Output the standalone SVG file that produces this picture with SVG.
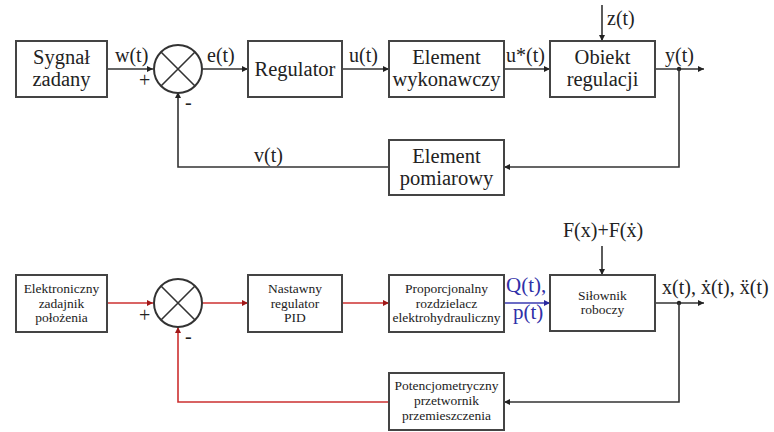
<svg xmlns="http://www.w3.org/2000/svg" width="774" height="432" viewBox="0 0 774 432">
<defs>
<style>
.box{fill:#fff;stroke:#444;stroke-width:2}
.t{fill:#222;text-anchor:middle}
.ln{fill:none;stroke:#333;stroke-width:1.6}
.red{fill:none;stroke:#cc3030;stroke-width:1.6}
.blue{fill:none;stroke:#3a3ab0;stroke-width:1.6}
.sum{fill:#fff;stroke:#333;stroke-width:2}
.x{stroke:#333;stroke-width:1.6}
</style>
<marker id="ak" viewBox="0 0 10 10" refX="10" refY="5" markerWidth="9" markerHeight="6" markerUnits="userSpaceOnUse" orient="auto"><path d="M0,0 L10,5 L0,10 z" fill="#222"/></marker>
<marker id="ar" viewBox="0 0 10 10" refX="10" refY="5" markerWidth="9" markerHeight="6" markerUnits="userSpaceOnUse" orient="auto"><path d="M0,0 L10,5 L0,10 z" fill="#a01818"/></marker>
<marker id="ab" viewBox="0 0 10 10" refX="10" refY="5" markerWidth="9" markerHeight="6" markerUnits="userSpaceOnUse" orient="auto"><path d="M0,0 L10,5 L0,10 z" fill="#2a2aa0"/></marker>
</defs>
<rect width="774" height="432" fill="#fff"/>

<g id="connectors">
<path class="ln" d="M107,69 H153" marker-end="url(#ak)"/>
<path class="ln" d="M202,69 H248" marker-end="url(#ak)"/>
<path class="ln" d="M342,69 H389" marker-end="url(#ak)"/>
<path class="ln" d="M504,69 H550" marker-end="url(#ak)"/>
<path class="ln" d="M602,5 V41" marker-end="url(#ak)"/>
<path class="ln" d="M655,69 H704" marker-end="url(#ak)"/>
<circle cx="679" cy="69" r="2.2" fill="#222"/>
<path class="ln" d="M679,69 V167 H504" marker-end="url(#ak)"/>
<path class="ln" d="M389,167 H178 V92" marker-end="url(#ak)"/>
<path class="red" d="M107,303 H153" marker-end="url(#ar)"/>
<path class="red" d="M202,303 H248" marker-end="url(#ar)"/>
<path class="red" d="M342,303 H389" marker-end="url(#ar)"/>
<path class="blue" d="M504,303 H550" marker-end="url(#ab)"/>
<path class="ln" d="M602,246 V275" marker-end="url(#ak)"/>
<path class="ln" d="M655,303 H704" marker-end="url(#ak)"/>
<circle cx="679" cy="303" r="2.2" fill="#222"/>
<path class="ln" d="M679,303 V402 H504" marker-end="url(#ak)"/>
<path class="red" d="M389,402 H178 V327" marker-end="url(#ar)"/>
</g>

<g id="labels" font-family="'Liberation Serif', serif" font-size="20" fill="#222">
<text x="115" y="62">w(t)</text>
<text x="139" y="87">+</text>
<text x="185" y="109">-</text>
<text x="207" y="62">e(t)</text>
<text x="349" y="62">u(t)</text>
<text x="506" y="62">u*(t)</text>
<text x="607" y="25">z(t)</text>
<text x="665" y="62">y(t)</text>
<text x="254" y="162">v(t)</text>
<text x="139" y="322">+</text>
<text x="185" y="343">-</text>
<text x="563" y="237">F(x)+F(ẋ)</text>
<text x="662" y="294">x(t), ẋ(t), ẍ(t)</text>
<text x="506" y="292" fill="#3030a8" font-size="21">Q(t),</text>
<text x="513" y="319" fill="#3030a8" font-size="21">p(t)</text>
</g>

<g id="sygnal" font-family="'Liberation Serif', serif" font-size="20.5"><rect class="box" x="16" y="41" width="91" height="56"/><text class="t" x="61.5" y="64">Sygnał</text><text class="t" x="61.5" y="86">zadany</text></g>
<g id="sum1"><circle class="sum" cx="178" cy="69" r="24"/><path class="x" d="M161,52 L195,86 M195,52 L161,86"/></g>
<g id="regulator" font-family="'Liberation Serif', serif" font-size="20.5"><rect class="box" x="248" y="41" width="94" height="56"/><text class="t" x="295" y="76">Regulator</text></g>
<g id="wykonawczy" font-family="'Liberation Serif', serif" font-size="20.5"><rect class="box" x="389" y="41" width="115" height="56"/><text class="t" x="446.5" y="64">Element</text><text class="t" x="446.5" y="86">wykonawczy</text></g>
<g id="obiekt" font-family="'Liberation Serif', serif" font-size="20.5"><rect class="box" x="550" y="41" width="105" height="56"/><text class="t" x="602.5" y="64">Obiekt</text><text class="t" x="602.5" y="86">regulacji</text></g>
<g id="pomiarowy" font-family="'Liberation Serif', serif" font-size="20.5"><rect class="box" x="389" y="140" width="115" height="55"/><text class="t" x="446.5" y="163">Element</text><text class="t" x="446.5" y="185">pomiarowy</text></g>

<g id="elektroniczny" font-family="'Liberation Serif', serif" font-size="13.5"><rect class="box" x="16" y="275" width="91" height="57"/><text class="t" x="61.5" y="293">Elektroniczny</text><text class="t" x="61.5" y="307.5">zadajnik</text><text class="t" x="61.5" y="322">położenia</text></g>
<g id="sum2"><circle class="sum" cx="178" cy="303" r="24"/><path class="x" d="M161,286 L195,320 M195,286 L161,320"/></g>
<g id="pid" font-family="'Liberation Serif', serif" font-size="13.5"><rect class="box" x="248" y="275" width="94" height="57"/><text class="t" x="295" y="293">Nastawny</text><text class="t" x="295" y="307.5">regulator</text><text class="t" x="295" y="322">PID</text></g>
<g id="rozdzielacz" font-family="'Liberation Serif', serif" font-size="13.5"><rect class="box" x="389" y="275" width="115" height="57"/><text class="t" x="446.5" y="293">Proporcjonalny</text><text class="t" x="446.5" y="307.5">rozdzielacz</text><text class="t" x="446.5" y="322">elektrohydrauliczny</text></g>
<g id="silownik" font-family="'Liberation Serif', serif" font-size="13.5"><rect class="box" x="550" y="275" width="105" height="56"/><text class="t" x="602.5" y="300">Siłownik</text><text class="t" x="602.5" y="314">roboczy</text></g>
<g id="potencjometryczny" font-family="'Liberation Serif', serif" font-size="13.5"><rect class="box" x="389" y="373" width="115" height="57"/><text class="t" x="446.5" y="390">Potencjometryczny</text><text class="t" x="446.5" y="405">przetwornik</text><text class="t" x="446.5" y="420">przemieszczenia</text></g>
</svg>
